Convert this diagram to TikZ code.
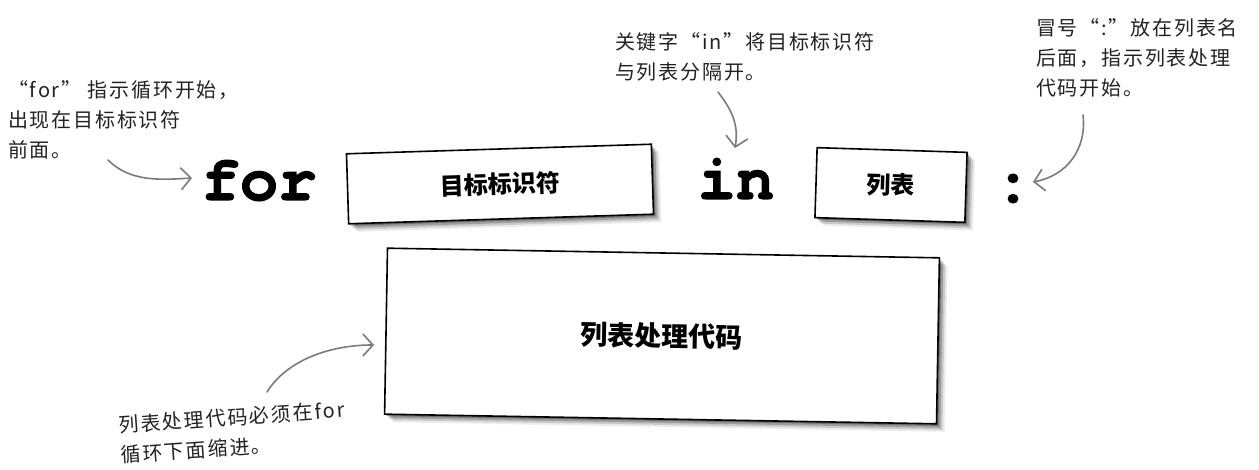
\documentclass[tikz,border=0pt]{standalone}
\usepackage{fontspec}
\newfontfamily\cjk[LetterSpace=9]{Noto Sans CJK SC}
\newfontfamily\cjkbox{Noto Sans CJK SC}
\newfontfamily\mono[BoldFeatures={FakeBold=1.6}]{TeX Gyre Cursor}
\usetikzlibrary{arrows.meta,shadows}
\definecolor{arrowgray}{HTML}{7A7A7A}
\definecolor{inkgray}{HTML}{222222}
\tikzset{
  anno/.style={font=\cjk\fontsize{20}{30}\selectfont, text=inkgray, align=left, inner sep=0pt},
  code/.style={font=\mono\bfseries\fontsize{64}{64}\selectfont, inner sep=0pt},
  box/.style={draw=black, line width=1.6pt, fill=white,
    font=\cjkbox\bfseries\fontsize{24}{24}\selectfont,
    drop shadow={shadow xshift=2pt, shadow yshift=-2pt, opacity=0.3, fill=black},
    drop shadow={shadow xshift=4pt, shadow yshift=-4pt, opacity=0.22, fill=black},
    drop shadow={shadow xshift=6pt, shadow yshift=-6pt, opacity=0.14, fill=black},
    drop shadow={shadow xshift=8pt, shadow yshift=-8pt, opacity=0.08, fill=black}},
  arr/.style={draw=arrowgray, line width=1.6pt, line cap=round,
    -{Straight Barb[length=10pt,width=22pt]}}
}
\begin{document}
\begin{tikzpicture}[x=1pt,y=-1pt]
\useasboundingbox (0,0) rectangle (1259,470);

% annotations
\node[anno, anchor=north west] (a1) at (8,80) {“for” 指示循环开始，\\出现在目标标识符\\前面。};
\node[anno, anchor=north west] (a2) at (615,32) {关键字“in”将目标标识符\\与列表分隔开。};
\node[anno, anchor=north west] (a3) at (1036,18) {冒号“:”放在列表名\\后面，指示列表处理\\代码开始。};
\node[anno, anchor=north west, rotate=4] (a4) at (118,416) {列表处理代码必须在for\\循环下面缩进。};

% code line
\node[code, anchor=base] (for) at (259,200) {for};
\node[box, minimum width=305pt, minimum height=70pt, rotate=1.8] (tid) at (500,184) {目标标识符};
\node[code, anchor=base] (in) at (736,199) {in};
\node[box, minimum width=150pt, minimum height=70pt, rotate=-1.8] (lst) at (891,185) {列表};
\node[code, anchor=base] (colon) at (1013,202) {:};
\node[box, minimum width=552pt, minimum height=166pt, rotate=-1,
      font=\cjkbox\bfseries\fontsize{27}{27}\selectfont] (body) at (662,336) {列表处理代码};

% arrows
\coordinate (t1) at (108,160); \coordinate (h1) at (192,178);
\coordinate (t2) at (718,92);  \coordinate (h2) at (735,148);
\coordinate (t3) at (1083,115); \coordinate (h3) at (1033,182);
\coordinate (t4) at (267,392); \coordinate (h4) at (374,345);
\draw[arr] (t1) .. controls (130,182) and (160,180) .. (h1);
\draw[arr] (t2) .. controls (732,110) and (739,125) .. (h2);
\draw[arr] (t3) .. controls (1087,150) and (1066,176) .. (h3);
\draw[arr] (t4) .. controls (287,360) and (330,345) .. (h4);
\end{tikzpicture}
\end{document}
